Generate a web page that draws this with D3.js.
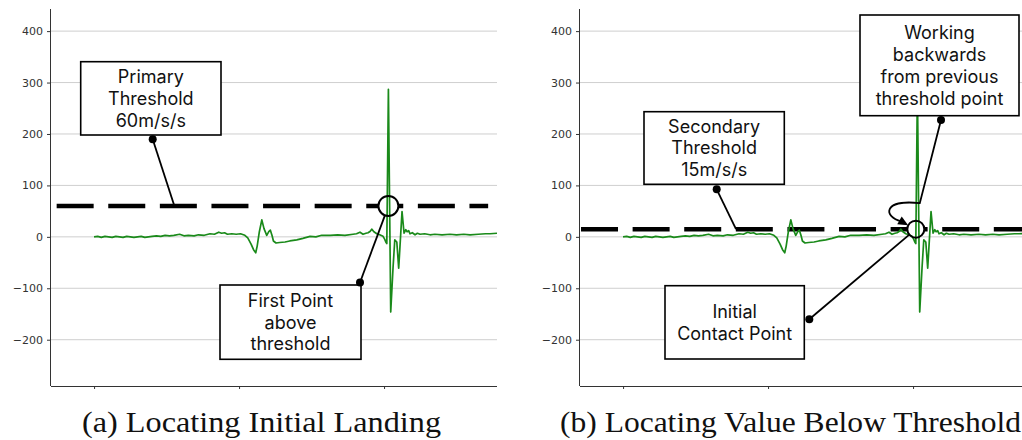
<!DOCTYPE html>
<html>
<head>
<meta charset="utf-8">
<script src="https://cdn.jsdelivr.net/npm/d3@7"></script>
<style>
  body { margin: 0; background: #fff; }
  svg { display: block; }
</style>
</head>
<body>
<svg id="chart" width="1022" height="440"></svg>
<script>
// Accelerometer trace (sample index, acceleration in m/s/s)
const sampleIndex = [0, 25, 50, 75, 100, 125, 150, 175, 200, 225, 250, 275, 300, 325, 350, 375, 400, 430, 460, 490,
  520, 550, 590, 620, 650, 690, 720, 760, 800, 830, 860, 880, 900, 920, 950, 980, 1010, 1040, 1060, 1083,
  1100, 1115, 1125, 1140, 1157, 1172, 1191, 1205, 1216, 1228, 1237, 1255, 1280, 1317, 1350, 1398, 1440, 1490, 1530, 1570,
  1628, 1680, 1730, 1786, 1810, 1834, 1855, 1875, 1890, 1905, 1915, 1930, 1950, 1970, 1993, 2005, 2012, 2019, 2030, 2046,
  2062, 2074, 2088, 2101, 2124, 2138, 2150, 2159, 2170, 2179, 2195, 2214, 2230, 2248, 2280, 2317, 2350, 2400, 2455, 2500,
  2550, 2593, 2650, 2700, 2731, 2779];
const accel = [0, 1, -1, 1, 0, -1, 1, 0, -1, 1, 0, -1, 0, 1, -1, 0, 1, 2, 1, 3,
  2, 3, 5, 2, 3, 2, 4, 3, 6, 5, 9, 7, 8, 5, 6, 5, 6, 3, -2, -14,
  -25, -31, -18, 10, 33, 16, 3, 10, 13, 2, -8, -12, -11, -10, -8, -6, -3, 1, 0, 3,
  3, 4, 3, 5, 6, 9, 5, 7, 8, 11, 15, 10, 6, 4, 1, -5, -10, -13, 287, -146,
  -60, -6, -10, -61, 49, 7, 14, 10, 12, 6, 8, 4, 7, 5, 6, 4, 5, 4, 5, 4,
  5, 4, 5, 6, 6, 7];

const yTicks = [-200, -100, 0, 100, 200, 300, 400];
const xTicks = [0, 1000, 2000];
const thresholds = [60, 15];
const thresholdSpans = [[-258, 2718], [-290, 2779]];
const crossingSample = [2030, 2019];
const captions = ["(a) Locating Initial Landing", "(b) Locating Value Below Threshold"];

const svg = d3.select("#chart");
const plotTop = 9, plotBottom = 386;
const panels = [
  { left: 51, right: 497, ring: 10, capX: 261.5, capW: 359 },
  { left: 580, right: 1026, ring: 8.5, capX: 790.5, capW: 461 }
];
const y = d3.scaleLinear().domain([-290, 443]).range([plotBottom, plotTop]);
const font = "Inter, 'Open Sans', sans-serif";

const series = sampleIndex.map((s, i) => [s, accel[i]]);

function box(g, x0, y0, x1, y1, lines, lh, fs) {
  g.append("rect").attr("x", x0).attr("y", y0).attr("width", x1 - x0).attr("height", y1 - y0)
    .attr("fill", "#fff").attr("stroke", "#000").attr("stroke-width", 1.6);
  const cx = (x0 + x1) / 2, cy = (y0 + y1) / 2;
  const n = lines.length;
  lines.forEach((t, i) => {
    g.append("text").attr("x", cx).attr("y", cy + (i - (n - 1) / 2) * lh)
      .attr("dy", "0.36em").attr("text-anchor", "middle")
      .style("font-family", font).style("font-size", fs + "px").attr("fill", "#111").text(t);
  });
}
function dot(g, x, yy) {
  g.append("circle").attr("cx", x).attr("cy", yy).attr("r", 4).attr("fill", "#000");
}
function seg(g, a, b) {
  g.append("line").attr("x1", a[0]).attr("y1", a[1]).attr("x2", b[0]).attr("y2", b[1])
    .attr("stroke", "#000").attr("stroke-width", 1.8);
}
function edge(c, r, from) {
  const dx = from[0] - c[0], dy = from[1] - c[1], L = Math.hypot(dx, dy);
  return [c[0] + dx / L * r, c[1] + dy / L * r];
}

panels.forEach((p, k) => {
  const x = d3.scaleLinear().domain([-297, 2779]).range([p.left, p.right]);
  const g = svg.append("g");
  const clipId = "clip" + k;
  svg.append("clipPath").attr("id", clipId).append("rect")
    .attr("x", p.left).attr("y", plotTop).attr("width", p.right - p.left).attr("height", plotBottom - plotTop);

  // grid
  g.append("g").selectAll("line").data(yTicks).join("line")
    .attr("x1", p.left).attr("x2", p.right).attr("y1", d => y(d)).attr("y2", d => y(d))
    .attr("stroke", "#cfcfcf").attr("stroke-width", 1);

  // axes
  const ya = g.append("g").attr("transform", `translate(${p.left},0)`)
    .call(d3.axisLeft(y).tickValues(yTicks).tickSize(4).tickPadding(4)
      .tickFormat(d => d < 0 ? "\u2212" + Math.abs(d) : d));
  ya.select(".domain").attr("d", `M-0.5,${plotTop}V${plotBottom}`).attr("stroke", "#333");
  ya.selectAll(".tick line").attr("stroke", "#333");
  ya.selectAll("text").style("font-family", "'DejaVu Sans', sans-serif").style("font-size", "11px").attr("fill", "#333");

  const xa = g.append("g").attr("transform", `translate(0,${plotBottom})`)
    .call(d3.axisBottom(x).tickValues(xTicks).tickSize(3).tickFormat(""));
  xa.select(".domain").attr("d", `M${p.left},0.5H${p.right}`).attr("stroke", "#333");
  xa.selectAll(".tick line").attr("stroke", "#333");

  const plot = g.append("g").attr("clip-path", `url(#${clipId})`);
  const thr = thresholds[k];
  const span = thresholdSpans[k];
  plot.append("line").attr("x1", x(span[0])).attr("x2", x(span[1]))
    .attr("y1", y(thr)).attr("y2", y(thr))
    .attr("stroke", "#000").attr("stroke-width", 4.5).attr("stroke-dasharray", "37,14.6");

  const c = [x(crossingSample[k]), y(thr)];
  plot.append("circle").attr("cx", c[0]).attr("cy", c[1]).attr("r", p.ring).attr("fill", "#fff");

  plot.append("path").datum(series)
    .attr("d", d3.line().x(d => x(d[0])).y(d => y(d[1])))
    .attr("fill", "none").attr("stroke", "#1a8a1a").attr("stroke-width", 1.7)
    .attr("stroke-linejoin", "round");

  plot.append("circle").attr("cx", c[0]).attr("cy", c[1]).attr("r", p.ring)
    .attr("fill", "none").attr("stroke", "#000").attr("stroke-width", 2);

  const ann = svg.append("g");
  if (k === 0) {
    const tgt = [x(554), y(thr)];
    seg(ann, [152.7, 139.3], tgt);
    box(ann, 80.7, 61.7, 221, 135, ["Primary", "Threshold", "60m/s/s"], 21.7, 18);
    dot(ann, 152.7, 139.3);

    const d0 = [360, 282.5];
    seg(ann, d0, edge(c, p.ring, d0));
    box(ann, 220, 285, 361, 359.3, ["First Point", "above", "threshold"], 21.7, 18);
    dot(ann, d0[0], d0[1]);
  } else {
    const tgt = [x(779), y(thr)];
    seg(ann, [716.7, 189.3], tgt);
    box(ann, 644, 111.7, 784.3, 184.3, ["Secondary", "Threshold", "15m/s/s"], 21.7, 18);
    dot(ann, 716.7, 189.3);

    // curved arrow back onto the crossing point
    const d1 = [941, 120];
    const bend = [c[0] + 4, c[1] - 26];
    const tip = [c[0] - p.ring * 0.9, c[1] - p.ring * 0.45];
    const pth = d3.path();
    pth.moveTo(d1[0], d1[1]);
    pth.lineTo(bend[0], bend[1]);
    pth.bezierCurveTo(bend[0] - 38, bend[1] - 4, bend[0] - 36, bend[1] + 14, tip[0] - 7, tip[1] - 4);
    ann.append("path").attr("d", pth.toString()).attr("fill", "none")
      .attr("stroke", "#000").attr("stroke-width", 1.8);
    const ang = Math.atan2(4, 7);
    const hl = 10, hw = 4.5;
    const bx = tip[0] - Math.cos(ang) * hl, by = tip[1] - Math.sin(ang) * hl;
    ann.append("path").attr("d",
      `M${tip[0]},${tip[1]}L${bx - Math.sin(ang) * hw},${by + Math.cos(ang) * hw}L${bx + Math.sin(ang) * hw},${by - Math.cos(ang) * hw}Z`)
      .attr("fill", "#000");
    box(ann, 860, 15, 1019, 115.7, ["Working", "backwards", "from previous", "threshold point"], 22.2, 18);
    dot(ann, d1[0], d1[1]);

    const d2 = [809.3, 319.3];
    seg(ann, d2, edge(c, p.ring, d2));
    box(ann, 665, 285.7, 804.3, 359, ["Initial", "Contact Point"], 21.7, 18);
    dot(ann, d2[0], d2[1]);
  }

  svg.append("text").attr("x", p.capX).attr("y", 432).attr("text-anchor", "middle")
    .attr("textLength", p.capW).attr("lengthAdjust", "spacingAndGlyphs")
    .style("font-family", "'Liberation Serif', 'DejaVu Serif', serif").style("font-size", "30px")
    .attr("fill", "#111").text(captions[k]);
});
</script>
</body>
</html>
